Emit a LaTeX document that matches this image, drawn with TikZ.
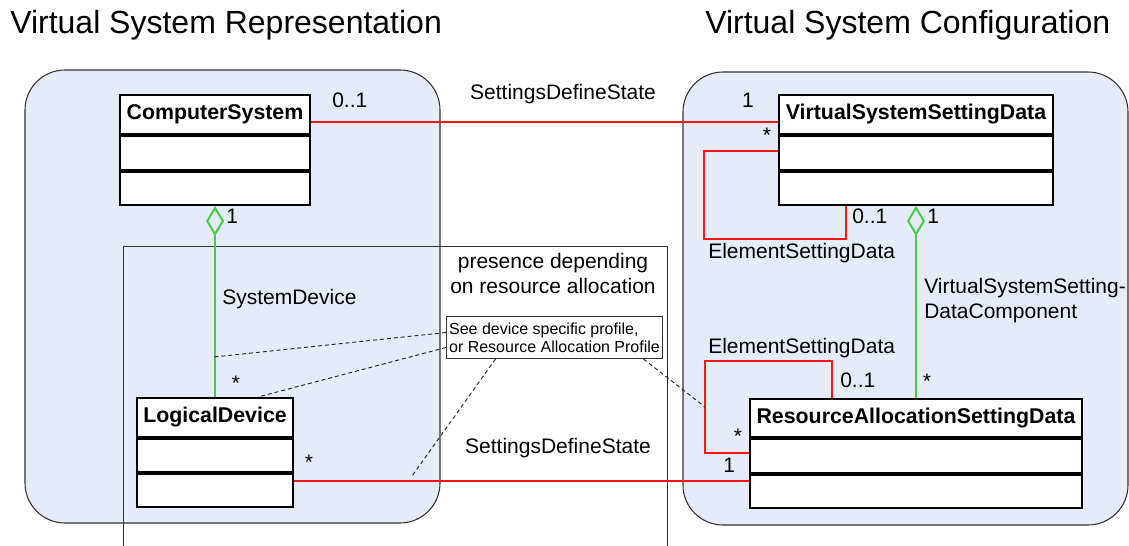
\documentclass[tikz,border=0pt]{standalone}
\usepackage{fontspec}
\setmainfont{Liberation Sans}
\usetikzlibrary{arrows.meta}
\newcommand{\pxu}{0.75pt}
\definecolor{panelfill}{RGB}{230,236,247}
\definecolor{assocred}{RGB}{250,20,20}
\definecolor{aggreen}{RGB}{70,205,70}
\definecolor{frameline}{RGB}{50,50,50}
\begin{document}
\begin{tikzpicture}[x=0.75pt,y=-0.75pt,
  panel/.style={draw=frameline, line width=0.8pt, fill=panelfill, rounded corners=30pt},
  frame/.style={draw=frameline, line width=0.75pt},
  classhead/.style={draw=black, line width=1.5pt, fill=white, inner sep=0pt, anchor=north west,
    font=\bfseries\fontsize{16}{19}\selectfont},
  classpart/.style={draw=black, line width=1.5pt, fill=white, inner sep=0pt, anchor=north west},
  lbl/.style={inner sep=0pt, font=\fontsize{15.75}{18}\selectfont},
  ttl/.style={inner sep=0pt, font=\fontsize{24}{28}\selectfont, anchor=base west},
  notebox/.style={draw=frameline, line width=0.75pt, fill=white, inner xsep=1.5pt, inner ysep=0pt,
    anchor=north west, align=left, font=\fontsize{12}{13.5}\selectfont},
  assoc/.style={draw=assocred, line width=1pt},
  aggr/.style={draw=aggreen, line width=1pt, {Diamond[open,length=22.5pt,width=13.5pt,line width=1.5pt]}-},
  anchorline/.style={draw=black!85, line width=0.7pt, dash pattern=on 3pt off 2.2pt}
]
\useasboundingbox (0,0) rectangle (1129,546);

% titles
\node[ttl] (t1) at (10,33) {Virtual System Representation};
\node[ttl] (t2) at (705,33) {Virtual System Configuration};

% panels
\path[panel] (25,70) rectangle (440,523);
\path[panel] (683,72) rectangle (1128,525);

% frame
\draw[frame] (123,546) -- (123,246) -- (667,246) -- (667,546);

% classes
\node[classhead, minimum width=190*\pxu, minimum height=39*\pxu] (cs) at (119,94) {ComputerSystem};
\node[classpart, minimum width=190*\pxu, minimum height=34*\pxu] (cs2) at (cs.south west) {};
\node[classpart, minimum width=190*\pxu, minimum height=33*\pxu] (cs3) at (cs2.south west) {};

\node[classhead, minimum width=274*\pxu, minimum height=39*\pxu] (vssd) at (778,94) {VirtualSystemSettingData};
\node[classpart, minimum width=274*\pxu, minimum height=34*\pxu] (vssd2) at (vssd.south west) {};
\node[classpart, minimum width=274*\pxu, minimum height=33*\pxu] (vssd3) at (vssd2.south west) {};

\node[classhead, minimum width=156*\pxu, minimum height=39*\pxu] (ld) at (136,397) {LogicalDevice};
\node[classpart, minimum width=156*\pxu, minimum height=33*\pxu] (ld2) at (ld.south west) {};
\node[classpart, minimum width=156*\pxu, minimum height=33*\pxu] (ld3) at (ld2.south west) {};

\node[classhead, minimum width=332*\pxu, minimum height=38*\pxu] (rasd) at (749,398) {ResourceAllocationSettingData};
\node[classpart, minimum width=332*\pxu, minimum height=34*\pxu] (rasd2) at (rasd.south west) {};
\node[classpart, minimum width=332*\pxu, minimum height=33*\pxu] (rasd3) at (rasd2.south west) {};

% note
\node[notebox, minimum width=216*\pxu, minimum height=42*\pxu] (note) at (446,316)
  {See device specific profile,\\or Resource Allocation Profile};

% free-end coordinates for note anchors
\coordinate (sdpt) at (214,357);
\coordinate (rlpt) at (412,476);
\coordinate (rppt) at (705,407);

% associations
\draw[assoc] ([yshift=-5.625pt]cs.east) -- ([yshift=-5.625pt]vssd.west);
\draw[assoc] ([yshift=1.5pt]vssd2.west) -- ++(-74,0) -- ++(0,88) -| ([xshift=51pt]vssd3.south west);
\draw[assoc] ([yshift=2.25pt]rasd2.west) -- ++(-44,0) -- ++(0,-92) -| ([xshift=62.25pt]rasd.north west);
\draw[assoc] ([yshift=7.125pt]ld3.east) coordinate (ldr) -- (ldr -| rasd3.west);

% aggregations
\draw[aggr] (cs3.south) -- (ld.north);
\draw[aggr] (vssd3.south) -- (rasd.north);

% note anchors
\draw[anchorline] ([yshift=3.75pt]note.west) -- (sdpt);
\draw[anchorline] ([yshift=-7.5pt]note.west) -- ([xshift=32.25pt]ld.north);
\draw[anchorline] ([xshift=-44.25pt]note.south) -- (rlpt);
\draw[anchorline] ([xshift=66.75pt]note.south) -- (rppt);

% labels
\node[lbl, anchor=base west] (l01a) at (332,107) {0..1};
\node[lbl, anchor=base] (sds1) at (563,99) {SettingsDefineState};
\node[lbl, anchor=base] (m1a) at (748,107) {1};
\node[lbl, anchor=base] (ma) at (767,142) {*};
\node[lbl, anchor=base west] (m1b) at (226,223) {1};
\node[lbl, anchor=base west] (l01b) at (852,223) {0..1};
\node[lbl, anchor=base west] (m1c) at (927,223) {1};
\node[lbl, anchor=base west] (esd1) at (708,258) {ElementSettingData};
\node[lbl, anchor=base west] (vssdc1) at (924,293) {VirtualSystemSetting-};
\node[lbl, anchor=base west] (vssdc2) at (924,318) {DataComponent};
\node[lbl, anchor=base west] (sysdev) at (222,304) {SystemDevice};
\node[lbl, anchor=base] (pres1) at (553,268) {presence depending};
\node[lbl, anchor=base] (pres2) at (553,293) {on resource allocation};
\node[lbl, anchor=base] (mb) at (236,390) {*};
\node[lbl, anchor=base] (mc) at (309,469) {*};
\node[lbl, anchor=base] (sds2) at (558,453) {SettingsDefineState};
\node[lbl, anchor=base west] (esd2) at (708,353) {ElementSettingData};
\node[lbl, anchor=base west] (l01c) at (840,387) {0..1};
\node[lbl, anchor=base] (md) at (927,388) {*};
\node[lbl, anchor=base] (me) at (738,443) {*};
\node[lbl, anchor=base west] (m1d) at (723,472) {1};
\end{tikzpicture}
\end{document}
